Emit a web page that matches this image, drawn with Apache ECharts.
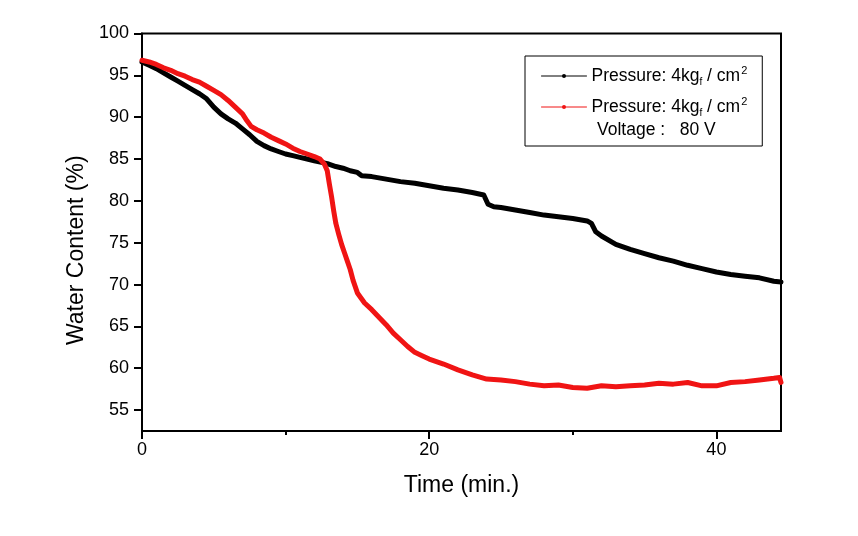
<!DOCTYPE html>
<html>
<head>
<meta charset="utf-8">
<script src="https://cdn.jsdelivr.net/npm/echarts@6/dist/echarts.min.js"></script>
<style>
html,body{margin:0;padding:0;background:#fff;}
#chart{width:858px;height:536px;}
</style>
</head>
<body>
<div id="chart"></div>
<script>
// Data: [time (min), water content (%)]
var pressureOnly = [
  [0,96.6],[0.5,96.2],[1,95.8],[1.5,95.3],[2,94.8],[2.5,94.3],[3,93.8],[3.5,93.3],
  [4,92.8],[4.5,92.2],[5,91.2],[5.5,90.4],[6,89.8],[6.5,89.3],[7,88.6],[7.5,87.9],
  [8,87.1],[8.5,86.6],[9,86.2],[9.5,85.9],[10,85.6],[10.5,85.4],[11,85.2],[11.5,85.0],
  [12,84.8],[12.5,84.6],[13,84.4],[13.5,84.1],[14,83.9],[14.5,83.6],[15,83.4],[15.3,83.0],
  [16,82.9],[17,82.6],[18,82.3],[19,82.1],[20,81.8],[21,81.5],[22,81.3],[23,81.0],
  [23.8,80.7],[24.1,79.6],[24.5,79.3],[25,79.2],[26,78.9],[27,78.6],[28,78.3],[29,78.1],
  [30,77.9],[31,77.6],[31.3,77.3],[31.6,76.3],[32,75.8],[33,74.8],[34,74.2],[35,73.7],
  [36,73.2],[37,72.8],[38,72.3],[39,71.9],[40,71.5],[41,71.2],[42,71.0],[43,70.8],
  [44,70.4],[44.5,70.3]
];
var pressureVoltage = [
  [0,96.8],[0.5,96.6],[1,96.3],[1.5,95.9],[2,95.6],[2.5,95.2],[3,94.9],[3.5,94.5],
  [4,94.2],[4.5,93.7],[5,93.2],[5.5,92.7],[6,92.0],[6.5,91.2],[7,90.4],[7.3,89.6],
  [7.6,88.9],[8,88.5],[8.5,88.1],[9,87.6],[9.5,87.2],[10,86.8],[10.5,86.3],[11,85.9],
  [11.5,85.6],[12,85.3],[12.4,85.0],[12.7,84.4],[12.9,83.6],[13.05,82.0],[13.2,80.5],[13.35,78.8],
  [13.5,77.3],[13.7,76.0],[13.9,74.8],[14.1,73.8],[14.3,72.8],[14.5,71.8],[14.7,70.5],[15,69.0],
  [15.5,67.8],[16,67.0],[16.5,66.1],[17,65.2],[17.5,64.2],[18,63.4],[18.5,62.6],[19,61.9],
  [19.5,61.5],[20,61.1],[21,60.5],[22,59.8],[23,59.2],[24,58.7],[25,58.6],[26,58.4],
  [27,58.1],[28,57.9],[29,58.0],[30,57.7],[31,57.6],[32,57.9],[33,57.8],[34,57.9],
  [35,58.0],[36,58.2],[37,58.1],[38,58.3],[39,57.9],[40,57.9],[41,58.3],[42,58.4],
  [43,58.6],[44,58.8],[44.4,58.9],[44.5,58.3]
];
var xMajorTicks = [0, 20, 40];
var xMinorTicks = [10, 30];
var yTicks = [55, 60, 65, 70, 75, 80, 85, 90, 95, 100];
var seriesNames = ['p1', 'p2'];
var legendLabel = '{a|Pressure: 4kg}{sub|f}{a| / cm}{sup|2}';
var voltageLabel = 'Voltage :   80 V';

var font = "'Liberation Sans', Arial, sans-serif";

var chart = echarts.init(document.getElementById('chart'), null, {renderer: 'canvas'});
chart.setOption({
  animation: false,
  backgroundColor: '#fff',
  grid: {left: 142, right: 77, top: 33.5, bottom: 105, show: true, borderColor: '#000', borderWidth: 2, backgroundColor: 'transparent'},
  title: {
    text: voltageLabel, left: 597, top: 119, padding: 0,
    textStyle: {fontFamily: font, fontSize: 17.5, fontWeight: 'normal', color: '#000', lineHeight: 22}
  },
  legend: {
    orient: 'vertical', left: 525, top: 56,
    padding: [9, 15, 28, 16], itemGap: 9, itemWidth: 45, itemHeight: 5,
    borderColor: '#000', borderWidth: 1, borderRadius: 0,
    data: seriesNames,
    lineStyle: {width: 1},
    formatter: function () { return legendLabel; },
    textStyle: {
      color: '#000',
      rich: {
        a: {fontFamily: font, fontSize: 17.5, lineHeight: 22, color: '#000'},
        sub: {fontFamily: font, fontSize: 10, verticalAlign: 'bottom', color: '#000'},
        sup: {fontFamily: font, fontSize: 11, verticalAlign: 'top', color: '#000', padding: [0,0,0,1]}
      }
    }
  },
  xAxis: [{
    type: 'value', min: 0, max: 44.5, position: 'bottom',
    name: 'Time (min.)', nameLocation: 'middle', nameGap: 43,
    nameTextStyle: {fontFamily: font, fontSize: 23, color: '#000'},
    axisLine: {show: true, onZero: false, lineStyle: {color: '#000', width: 2}},
    axisTick: {show: true, customValues: xMajorTicks, length: 8, lineStyle: {color: '#000', width: 2}},
    axisLabel: {customValues: xMajorTicks, fontFamily: font, fontSize: 18, color: '#000', margin: 10},
    splitLine: {show: false}
  }, {
    type: 'value', min: 0, max: 44.5, position: 'bottom',
    axisLine: {show: false},
    axisTick: {show: true, customValues: xMinorTicks, length: 4, lineStyle: {color: '#000', width: 2}},
    axisLabel: {show: false},
    splitLine: {show: false}
  }],
  yAxis: {
    type: 'value', min: 52.5, max: 100,
    name: 'Water Content (%)', nameLocation: 'middle', nameGap: 47,
    nameTextStyle: {fontFamily: font, fontSize: 23, color: '#000', padding: [0, 36, 0, 0]},
    axisLine: {show: true, onZero: false, lineStyle: {color: '#000', width: 2}},
    axisTick: {show: true, customValues: yTicks, length: 8, lineStyle: {color: '#000', width: 2}},
    axisLabel: {customValues: yTicks, fontFamily: font, fontSize: 18, color: '#000', margin: 13},
    splitLine: {show: false}
  },
  series: [{
    name: seriesNames[0], type: 'line', data: pressureOnly,
    symbol: 'none', color: '#000',
    lineStyle: {color: '#000', width: 5, join: 'round', cap: 'round'}
  }, {
    name: seriesNames[1], type: 'line', data: pressureVoltage,
    symbol: 'none', color: '#f01414',
    lineStyle: {color: '#f01414', width: 5, join: 'round', cap: 'round'}
  }]
});
</script>
</body>
</html>
